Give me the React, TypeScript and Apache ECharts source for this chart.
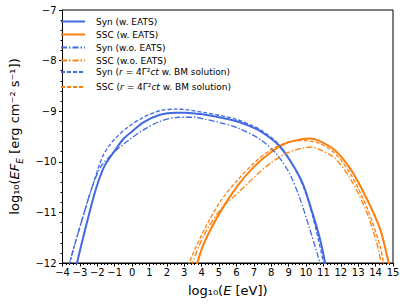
import React, { useEffect, useRef } from "react";
import * as echarts from "echarts";

const BLUE = "#4169E1";
const ORANGE = "#FF7F0E";

// Syn (w. EATS) — solid
const synWX = [-3.3, -3.16, -2.9, -2.5, -2.2, -1.95, -1.7, -1.5, -1.0, -0.5, 0, 0.65, 1.6, 2.5, 3.1, 4.2, 5.0, 6.0, 7.0, 7.4, 8.3, 9.05, 9.8, 10.36, 10.82, 11.1, 11.25];
const synWY = [-12.3, -12.0, -11.62, -11.07, -10.68, -10.4, -10.17, -10.03, -9.78, -9.55, -9.4, -9.22, -9.07, -9.03, -9.03, -9.07, -9.12, -9.2, -9.33, -9.4, -9.63, -9.96, -10.42, -11.0, -11.55, -12.0, -12.3];

// SSC (w. EATS) — solid
const sscWX = [3.6, 3.75, 4.21, 5.14, 6.07, 7.0, 7.94, 8.87, 9.8, 10.2, 10.73, 11.66, 12.59, 13.52, 14.27, 14.75, 14.85];
const sscWY = [-12.3, -12.0, -11.55, -10.95, -10.47, -10.1, -9.82, -9.63, -9.55, -9.54, -9.58, -9.77, -10.16, -10.75, -11.34, -12.0, -12.2];

// Syn (w.o. EATS) — dash-dot
const synNX = [-3.75, -3.59, -2.88, -2.25, -1.77, -1.3, -1.0, -0.3, 0.65, 1.6, 2.7, 3.6, 4.2, 5.0, 6.07, 7.38, 8.31, 9.05, 9.61, 10.17, 10.64, 10.8, 10.95];
const synNY = [-12.3, -12.0, -11.15, -10.45, -10.08, -9.9, -9.8, -9.6, -9.37, -9.2, -9.12, -9.12, -9.16, -9.22, -9.33, -9.56, -9.85, -10.23, -10.69, -11.28, -11.81, -12.0, -12.3];

// SSC (w.o. EATS) — dash-dot
const sscNX = [3.3, 3.47, 4.21, 5.14, 6.07, 7.0, 7.94, 8.87, 9.8, 10.36, 10.73, 11.66, 12.59, 13.52, 14.17, 14.3, 14.4];
const sscNY = [-12.3, -12.0, -11.4, -10.92, -10.62, -10.31, -10.03, -9.83, -9.73, -9.71, -9.75, -9.93, -10.36, -11.02, -11.74, -12.0, -12.2];

// Syn (r = 4Γ²ct w. BM solution) — dashed
const synBX = [-3.75, -3.59, -2.88, -2.25, -1.7, -1.25, -1.0, -0.3, 0.65, 1.6, 2.5, 3.1, 4.2, 5.0, 6.0, 7.0, 7.4, 8.3, 9.05, 9.8, 10.36, 10.82, 11.0, 11.15];
const synBY = [-12.3, -12.0, -11.15, -10.45, -9.9, -9.65, -9.55, -9.33, -9.12, -8.99, -8.96, -8.97, -9.03, -9.08, -9.16, -9.3, -9.37, -9.61, -9.95, -10.45, -11.05, -11.7, -12.0, -12.3];

// SSC (r = 4Γ²ct w. BM solution) — dashed
const sscBX = [3.1, 3.28, 4.21, 5.14, 6.07, 7.0, 7.94, 8.87, 9.8, 10.73, 11.66, 12.59, 13.52, 14.27, 14.45, 14.55];
const sscBY = [-12.3, -12.0, -11.3, -10.75, -10.36, -10.03, -9.77, -9.62, -9.58, -9.63, -9.83, -10.26, -10.92, -11.68, -12.0, -12.2];

const seriesNames = [
  "Syn (w. EATS)",
  "SSC (w. EATS)",
  "Syn (w.o. EATS)",
  "SSC (w.o. EATS)",
  "Syn (r=4Γ²ct w. BM solution)",
  "SSC (r=4Γ²ct w. BM solution)",
];

const xTicks = { min: -4, max: 15, interval: 1 };
const yTicks = { min: -12, max: -7, interval: 1 };

const FONT = "DejaVu Sans";
const DASH = [4, 2];
const DASHDOT = [6, 2, 1.5, 2];

function zip(xs: number[], ys: number[]) {
  return xs.map((x, i) => [x, ys[i]]);
}

const minus = (v: number) => String(v).replace("-", "\u2212");

export default function App() {
  const ref = useRef<HTMLDivElement>(null);
  useEffect(() => {
    if (!ref.current) return;
    const chart = echarts.init(ref.current, null, { renderer: "svg" });
    const mk = (name: string, xs: number[], ys: number[], color: string, type: any, width: number) => ({
      name,
      type: "line",
      data: zip(xs, ys),
      smooth: 0.3,
      symbol: "none",
      clip: true,
      lineStyle: { color, width, type },
      itemStyle: { color },
    });
    const legendText = {
      fontFamily: FONT,
      fontSize: 9,
      color: "#000",
      padding: [0, 0, 0, 6],
      rich: {
        t: { fontFamily: FONT, fontSize: 9, color: "#000" },
        i: { fontFamily: FONT, fontSize: 9, fontStyle: "italic", color: "#000" },
      },
    };
    const legendFmt = (name: string) => {
      if (name.includes("r=4")) {
        const pre = name.startsWith("Syn") ? "Syn (" : "SSC (";
        return `{t|${pre}}{i|r}{t| = 4Γ²}{i|ct}{t| w. BM solution)}`;
      }
      return name;
    };
    const axisName = {
      n: { fontFamily: FONT, fontSize: 13, color: "#000", lineHeight: 20 },
      i: { fontFamily: FONT, fontSize: 13, fontStyle: "italic", color: "#000", lineHeight: 20 },
      s: { fontFamily: FONT, fontSize: 9, fontStyle: "italic", color: "#000", lineHeight: 8, verticalAlign: "bottom" },
    };
    const legendBase = {
      orient: "vertical",
      left: 60,
      padding: 0,
      itemWidth: 24,
      itemHeight: 10,
      textStyle: legendText,
      formatter: legendFmt,
      selectedMode: false,
      itemStyle: { opacity: 0 },
    };
    chart.setOption({
      animation: false,
      backgroundColor: "#fff",
      grid: { left: 53, right: 14, top: 10, bottom: 42, show: true, borderColor: "#000", borderWidth: 1 },
      legend: [
        { ...legendBase, data: seriesNames.slice(0, 4), top: 17, itemGap: 4 },
        { ...legendBase, data: seriesNames.slice(4), top: 67.5, itemGap: 6 },
      ],
      xAxis: {
        type: "value",
        min: xTicks.min,
        max: xTicks.max,
        interval: xTicks.interval,
        name: "{n|log₁₀(}{i|E}{n| [eV])}",
        nameLocation: "middle",
        nameGap: 17,
        nameTextStyle: { rich: axisName },
        axisLine: { show: true, onZero: false, lineStyle: { color: "#000", width: 1 } },
        axisTick: { show: true, length: 3.5, lineStyle: { color: "#000" } },
        minorTick: { show: true, splitNumber: 5, length: 2, lineStyle: { color: "#000" } },
        axisLabel: { fontFamily: FONT, fontSize: 10, color: "#000", margin: 4, formatter: minus },
        splitLine: { show: false },
      },
      yAxis: {
        type: "value",
        min: yTicks.min,
        max: yTicks.max,
        interval: yTicks.interval,
        name: "{n|log₁₀(}{i|EF}{s|E}{n| [erg cm⁻² s⁻¹])}",
        nameLocation: "middle",
        nameGap: 29,
        nameRotate: 90,
        nameTextStyle: { rich: axisName },
        axisLine: { show: true, onZero: false, lineStyle: { color: "#000", width: 1 } },
        axisTick: { show: true, length: 3.5, lineStyle: { color: "#000" } },
        minorTick: { show: true, splitNumber: 5, length: 2, lineStyle: { color: "#000" } },
        axisLabel: { fontFamily: FONT, fontSize: 10, color: "#000", margin: 6, formatter: minus },
        splitLine: { show: false },
      },
      series: [
        mk(seriesNames[0], synWX, synWY, BLUE, "solid", 2),
        mk(seriesNames[1], sscWX, sscWY, ORANGE, "solid", 2),
        mk(seriesNames[2], synNX, synNY, BLUE, DASHDOT, 1.3),
        mk(seriesNames[3], sscNX, sscNY, ORANGE, DASHDOT, 1.3),
        mk(seriesNames[4], synBX, synBY, BLUE, DASH, 1.3),
        mk(seriesNames[5], sscBX, sscBY, ORANGE, DASH, 1.3),
      ],
    });
    return () => chart.dispose();
  }, []);
  return <div ref={ref} style={{ position: "fixed", left: 0, top: 0, width: 407, height: 305 }} />;
}
